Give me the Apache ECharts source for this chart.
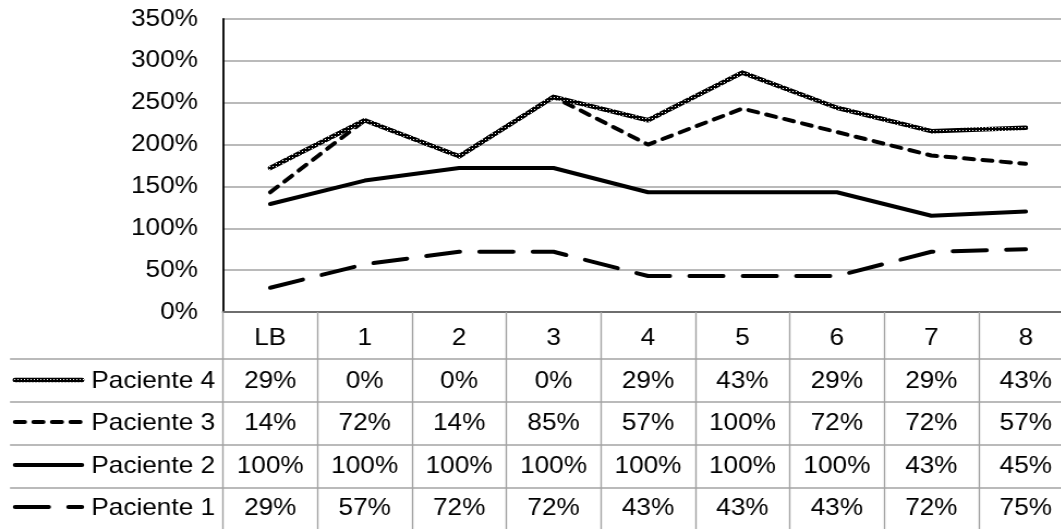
<!DOCTYPE html>
<html>
<head>
<meta charset="utf-8">
<script src="https://cdn.jsdelivr.net/npm/echarts@6/dist/echarts.min.js"></script>
<style>
  html, body { margin: 0; padding: 0; background: #fff; overflow: hidden; width: 1061px; height: 529px; }
  #main { height: 529px; transform-origin: 0 0; }
</style>
</head>
<body>
<div id="main"></div>
<script>
// Sessions (x axis) and per-patient values, in percent
const categories = ['LB', '1', '2', '3', '4', '5', '6', '7', '8'];
const paciente1 = [29, 57, 72, 72, 43, 43, 43, 72, 75];
const paciente2 = [100, 100, 100, 100, 100, 100, 100, 43, 45];
const paciente3 = [14, 72, 14, 85, 57, 100, 72, 72, 57];
const paciente4 = [29, 0, 0, 0, 29, 43, 29, 29, 43];
const seriesNames = ['Paciente 1', 'Paciente 2', 'Paciente 3', 'Paciente 4'];
const yMax = 350;
const yStep = 50;

const seriesData = [paciente1, paciente2, paciente3, paciente4];
// table rows, top to bottom
const tableOrder = [3, 2, 1, 0];

// the whole drawing is rendered slightly narrower and stretched horizontally
const SX = 1.09;
const W = 1061 / SX;
const px = v => v / SX;
const el = document.getElementById('main');
el.style.width = W + 'px';
el.style.transform = 'scaleX(' + SX + ')';

const FONT = '"Liberation Sans", Arial, Helvetica, sans-serif';
const FS = 24;
const AXIS_Y = 312;          // pixel row of the category axis
const headerMargin = 26;
const rowMargins = [69, 111, 154, 196];
const rowLines = [359, 402, 445, 488];
const GRID_COLOR = '#a3a3a3';

// speckled texture for the Paciente 4 stroke
const tex = document.createElement('canvas');
tex.width = 3; tex.height = 3;
const tc = tex.getContext('2d');
tc.fillStyle = '#000'; tc.fillRect(0, 0, 3, 3);
tc.fillStyle = '#fff'; tc.fillRect(1, 1, 1, 1);
const texColor = { image: tex, repeat: 'repeat' };

const lineStyles = [
  { color: '#000', width: 4, type: [31, 18], cap: 'round', join: 'round' },
  { color: '#000', width: 4, type: 'solid', cap: 'round', join: 'round' },
  { color: '#000', width: 4, type: [9, 8], cap: 'round', join: 'round' },
  { color: texColor, width: 4.5, type: 'solid', cap: 'round', join: 'round' }
];

const series = seriesNames.map((name, i) => ({
  name,
  type: 'line',
  stack: 'total',
  data: seriesData[i],
  showSymbol: false,
  symbol: 'none',
  silent: true,
  z: 2 + i,
  lineStyle: lineStyles[i]
}));

// data-table rows drawn as extra category axes under the plot
const tableAxes = tableOrder.map((si, r) => ({
  type: 'category',
  data: categories,
  gridIndex: 0,
  position: 'bottom',
  boundaryGap: true,
  axisLine: { show: false },
  axisTick: { show: false },
  splitLine: { show: false },
  axisLabel: {
    interval: 0,
    margin: rowMargins[r],
    verticalAlign: 'middle',
    fontSize: FS,
    fontFamily: FONT,
    color: '#000',
    formatter: (v, idx) => seriesData[si][idx] + '%'
  }
}));

// legend keys and table rules
const graphics = [];
rowLines.forEach(y => {
  graphics.push({
    type: 'line',
    shape: { x1: px(10), y1: y, x2: W, y2: y },
    style: { stroke: GRID_COLOR, lineWidth: 1.5 },
    silent: true
  });
});
tableOrder.forEach((si, r) => {
  const y = AXIS_Y + rowMargins[r];
  const ls = lineStyles[si];
  graphics.push({
    type: 'line',
    shape: { x1: px(15), y1: y - 1, x2: px(82), y2: y - 1 },
    style: {
      stroke: ls.color,
      lineWidth: ls.width,
      lineDash: Array.isArray(ls.type) ? ls.type : null,
      lineCap: ls.cap
    },
    silent: true
  });
  graphics.push({
    type: 'text',
    x: px(215),
    y: y,
    style: {
      text: seriesNames[si],
      font: FS + 'px ' + FONT,
      fill: '#000',
      textAlign: 'right',
      textVerticalAlign: 'middle'
    },
    silent: true
  });
});

const chart = echarts.init(el, null, { renderer: 'canvas' });
chart.setOption({
  animation: false,
  backgroundColor: '#fff',
  textStyle: { fontFamily: FONT },
  grid: {
    left: px(223),
    top: 19,
    width: px(850),
    height: AXIS_Y - 19,
    containLabel: false,
    outerBoundsMode: 'none'
  },
  xAxis: [{
    type: 'category',
    data: categories,
    boundaryGap: true,
    position: 'bottom',
    axisLine: { show: true, lineStyle: { color: '#6e6e6e', width: 2 } },
    axisTick: {
      show: true,
      interval: 0,
      inside: false,
      length: 529 - AXIS_Y,
      lineStyle: { color: GRID_COLOR, width: 1.5 / SX }
    },
    splitLine: { show: false },
    axisLabel: {
      interval: 0,
      margin: headerMargin,
      verticalAlign: 'middle',
      fontSize: FS,
      fontFamily: FONT,
      color: '#000'
    }
  }].concat(tableAxes),
  yAxis: {
    type: 'value',
    min: 0,
    max: yMax,
    interval: yStep,
    axisLine: { show: true, lineStyle: { color: '#000', width: 2 / SX } },
    axisTick: { show: false },
    splitLine: { show: true, lineStyle: { color: GRID_COLOR, width: 1.5 } },
    axisLabel: {
      margin: px(25),
      fontSize: FS,
      fontFamily: FONT,
      color: '#000',
      formatter: '{value}%'
    }
  },
  series,
  graphic: graphics
});
</script>
</body>
</html>
